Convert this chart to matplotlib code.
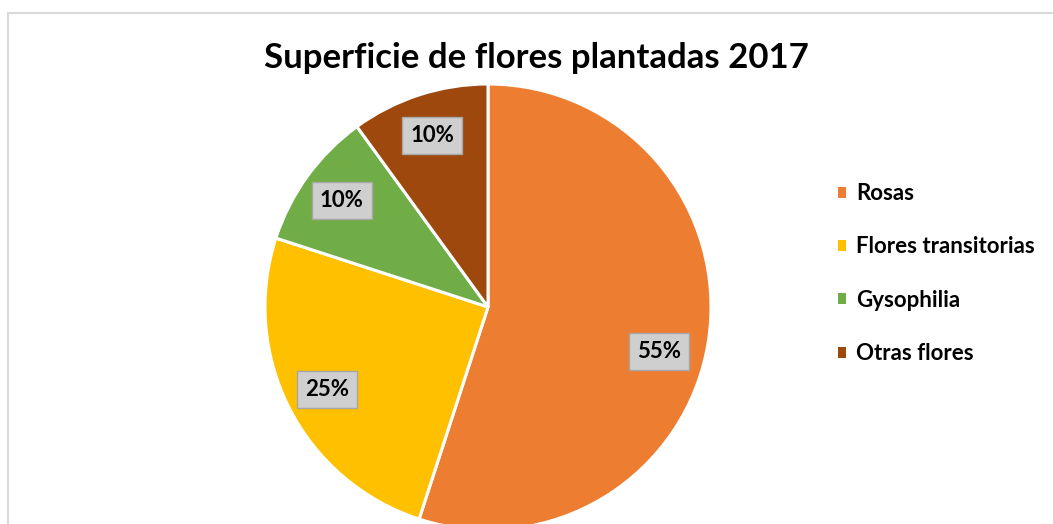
import matplotlib
matplotlib.use('Agg')
import matplotlib.pyplot as plt
from matplotlib.patches import Rectangle

categorias = ['Rosas', 'Flores transitorias', 'Gysophilia', 'Otras flores']
porcentajes = [55, 25, 10, 10]
colores = ['#ED7D31', '#FFC000', '#70AD47', '#9E480E']
titulo = 'Superficie de flores plantadas 2017'

W, H = 1053, 524
fig = plt.figure(figsize=(W / 100, H / 100), dpi=100)
ax = fig.add_axes([0, 0, 1, 1])

wedges, texts, autotexts = ax.pie(
    porcentajes, colors=colores, startangle=90, counterclock=False,
    center=(488, H - 307), radius=223, autopct='%d%%', pctdistance=0.81,
    wedgeprops=dict(edgecolor='white', linewidth=2.2),
    textprops=dict(fontsize=16, fontweight='bold', family='Lato', color='black'))

for t in autotexts:
    t.set_bbox(dict(boxstyle='square,pad=0.36', facecolor='#CFCFCF', edgecolor='#A6A6A6', linewidth=1))
# Excel places the big slice label a bit lower
x, y = autotexts[0].get_position()
autotexts[0].set_position((x - 7, y - 16))

ax.set_xlim(0, W)
ax.set_ylim(0, H)
ax.set_aspect('auto')
ax.axis('off')

# chart border (cropped on right and bottom)
fig.patches.append(Rectangle((8 / W, -0.1), 1.2, (H - 13) / H + 0.1, transform=fig.transFigure,
                             fill=False, edgecolor='#D9D9D9', linewidth=1.5))

fig.text(536 / W, 1 - 58 / H, titulo, ha='center', va='center', fontsize=25,
         fontweight='bold', family='Lato')

leg = ax.legend(wedges, categorias, loc='upper left', bbox_to_anchor=(818 / W, 1 - 163 / H),
                frameon=False, prop=dict(family='Lato', weight='bold', size=16),
                handlelength=0.38, handleheight=0.38, handletextpad=0.45, labelspacing=1.46)
for h in leg.legend_handles:
    h.set_edgecolor('none')

fig.savefig('out.png', dpi=100)
